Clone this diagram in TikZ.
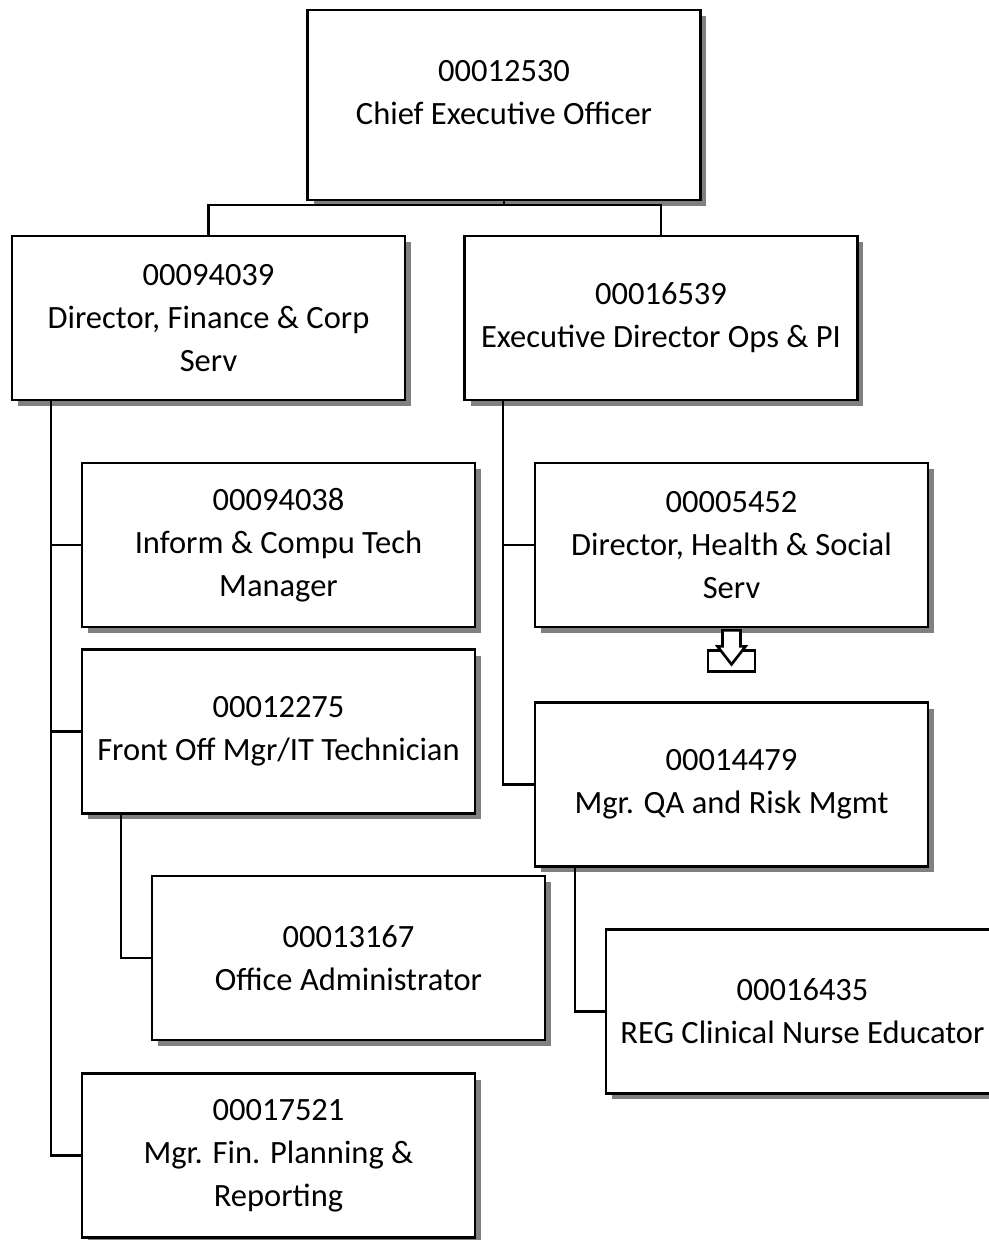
\documentclass[tikz,border=0pt]{standalone}
\usepackage{fontspec}
\setmainfont{Carlito}
\usetikzlibrary{shadows}

\tikzset{
  post/.style={draw, line width=1.6pt, fill=white, align=center,
    minimum width=7.86cm, minimum height=3.28cm, inner sep=0pt,
    font=\fontsize{18.5}{24.5}\selectfont,
    drop shadow={shadow xshift=0.12cm, shadow yshift=-0.12cm,
      fill=black!50, opacity=1}},
  link/.style={line width=1.2pt}
}

\begin{document}
\begin{tikzpicture}[x=0.02cm,y=-0.02cm]
 \useasboundingbox (0,0) rectangle (988,1240);
 % boxes
 \node[post,minimum height=3.8cm,text depth=0.5cm] (ceo) at (504,105) {00012530\\Chief Executive Officer};
 \node[post] (fin) at (208.5,318) {00094039\\Director, Finance \& Corp\\Serv};
 \node[post] (ops) at (661,318) {00016539\\Executive Director Ops \& PI};
 \node[post] (ict) at (278.5,545) {00094038\\Inform \& Compu Tech\\Manager};
 \node[post] (front) at (278.5,731.5) {00012275\\Front Off Mgr/IT Technician};
 \node[post] (admin) at (348.5,958) {00013167\\Office Administrator};
 \node[post] (plan) at (278.5,1155.5) {00017521\\Mgr. Fin. Planning \&\\Reporting};
 \node[post] (health) at (731.5,545) {00005452\\Director, Health \& Social\\Serv};
 \node[post] (qa) at (731.5,784.5) {00014479\\Mgr. QA and Risk Mgmt};
 \node[post] (reg) at (802.5,1011.5) {00016435\\REG Clinical Nurse Educator};
 % lines
 \coordinate (split) at (504,205);
 \draw[link] (ceo.south) -- (split);
 \draw[link] (fin.north) |- (split) -| (ops.north);
 \draw[link] ([xshift=0.8cm]fin.south west) |- (ict.west);
 \draw[link] ([xshift=0.8cm]fin.south west) |- (front.west);
 \draw[link] ([xshift=0.8cm]fin.south west) |- (plan.west);
 \draw[link] ([xshift=0.8cm]front.south west) |- (admin.west);
 \draw[link] ([xshift=0.8cm]ops.south west) |- (health.west);
 \draw[link] ([xshift=0.8cm]ops.south west) |- (qa.west);
 \draw[link] ([xshift=0.82cm]qa.south west) |- (reg.west);
 % tray mark under health
 \begin{scope}[shift={(health.south)},line width=1.5pt]
  \draw[fill=white] (-23.5,22) rectangle (23.5,43);
  \draw[fill=white,line join=miter] (-9,2) -- (9,2) -- (9,18) -- (14,18) -- (0,36)
    -- (-14,18) -- (-9,18) -- cycle;
 \end{scope}
\end{tikzpicture}
\end{document}
